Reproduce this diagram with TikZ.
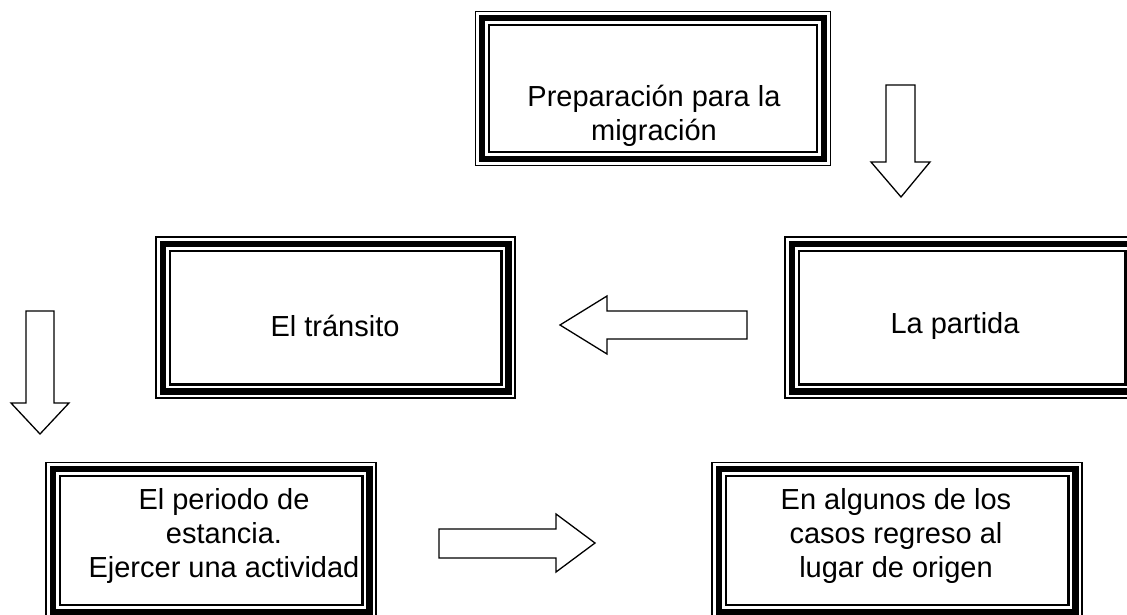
\documentclass[tikz,border=0pt]{standalone}
\usepackage{fontspec}
\setmainfont{Liberation Sans}
\begin{document}
\begin{tikzpicture}[x=1pt,y=-1pt,
  frame/.style={rectangle,inner sep=0pt,outer sep=0pt},
  txt/.style={align=center,font=\fontsize{29}{34}\selectfont,inner sep=0pt},
  blockarrow/.style={draw=black,fill=white,line width=1.3pt,line join=miter}]
\useasboundingbox (0,0) rectangle (1127,615);
\clip (0,0) rectangle (1127,615);
\newcommand{\triframe}[1]{%
  \draw[line width=1.4pt] (#1.north west) rectangle (#1.south east);
  \draw[line width=6.2pt] ([xshift=6.6pt,yshift=-6.6pt]#1.north west) rectangle ([xshift=-6.6pt,yshift=6.6pt]#1.south east);
  \draw[line width=2.2pt] ([xshift=13.6pt,yshift=-13.6pt]#1.north west) rectangle ([xshift=-13.6pt,yshift=13.6pt]#1.south east);}
% boxes
\node[frame,minimum width=355pt,minimum height=154pt] (b1) at (653,88.5) {};
\node[frame,minimum width=359pt,minimum height=161pt] (b2) at (335.5,317.5) {};
\node[frame,minimum width=354pt,minimum height=161pt] (b3) at (962,317.5) {};
\node[frame,minimum width=330pt,minimum height=156pt] (b4) at (211,540.5) {};
\node[frame,minimum width=370pt,minimum height=156pt] (b5) at (897,540.5) {};
\triframe{b1}\triframe{b2}\triframe{b3}\triframe{b4}\triframe{b5}
% texts
\node[txt] (t1) at (654,116) {Preparación para la\\migración};
\node[txt] (t2) at (335,326) {El tránsito};
\node[txt] (t3) at (955,326) {La partida};
\node[txt] (t4) at (224,536) {El periodo de\\estancia.\\Ejercer una actividad};
\node[txt] (t5) at (896,536) {En algunos de los\\casos regreso al\\lugar de origen};
% block arrows
\draw[blockarrow] (886,85) -- (915,85) -- (915,162) -- (930,162) -- (901,197) -- (871,162) -- (886,162) -- cycle;
\draw[blockarrow] (747,311) -- (607,311) -- (607,296) -- (560,325) -- (607,354) -- (607,339) -- (747,339) -- cycle;
\draw[blockarrow] (26,311) -- (54,311) -- (54,403) -- (69,403) -- (40,434) -- (11,403) -- (26,403) -- cycle;
\draw[blockarrow] (439,529) -- (556,529) -- (556,514) -- (595,543) -- (556,572) -- (556,558) -- (439,558) -- cycle;
\end{tikzpicture}
\end{document}
